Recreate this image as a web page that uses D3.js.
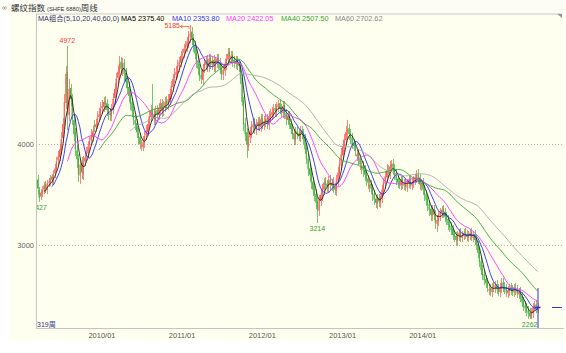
<!DOCTYPE html>
<html><head><meta charset="utf-8">
<script src="https://cdn.jsdelivr.net/npm/d3@7/dist/d3.min.js"></script>
<style>html,body{margin:0;padding:0;background:#fff;overflow:hidden}svg{display:block}</style>
</head><body><svg id="c" width="566" height="353"></svg>
<script>
// ---- data (weekly OHLC) ----
const closes=[
3560,3470,3520,3545,3590,3560,3610,3630,3660,3650,
3700,3760,3830,3880,3950,4050,4200,4420,4700,4300,
4550,4450,4250,4100,3950,3850,3700,3800,3720,3820,
3870,3920,3980,4030,4080,4130,4180,4200,4260,4300,
4350,4380,4420,4400,4340,4300,4290,4350,4450,4550,
4650,4720,4800,4750,4800,4700,4620,4560,4480,4400,
4330,4250,4200,4120,4060,4000,3990,4020,4080,4130,
4200,4280,4330,4290,4250,4330,4300,4360,4400,4330,
4380,4420,4400,4450,4500,4580,4650,4700,4720,4780,
4820,4880,4900,4950,4980,5020,5080,5100,5050,4980,
4900,4820,4750,4680,4650,4750,4800,4830,4780,4850,
4800,4830,4780,4820,4850,4800,4750,4700,4740,4800,
4850,4900,4870,4880,4830,4810,4830,4790,4780,4650,
4420,4200,4100,4000,4080,4120,4180,4200,4150,4200,
4220,4180,4250,4200,4230,4250,4200,4280,4300,4320,
4350,4330,4380,4400,4350,4320,4380,4300,4250,4280,
4200,4150,4100,4050,4120,4100,4080,4130,4100,4050,
3950,3850,3750,3700,3620,3550,3500,3420,3350,3450,
3500,3560,3620,3600,3580,3640,3600,3620,3570,3550,
3650,3720,3800,3900,3980,4050,4120,4150,4100,4060,
4000,3980,3940,3900,3850,3800,3780,3740,3700,3650,
3620,3600,3560,3500,3450,3420,3460,3430,3480,3550,
3620,3680,3740,3720,3780,3800,3750,3700,3650,3620,
3600,3650,3600,3620,3580,3620,3650,3600,3620,3650,
3670,3700,3660,3600,3620,3550,3500,3450,3400,3350,
3300,3350,3300,3220,3250,3300,3330,3350,3320,3280,
3250,3200,3180,3150,3100,3080,3050,3100,3120,3080,
3100,3120,3100,3080,3100,3120,3080,3100,3050,3000,
2920,2830,2750,2700,2650,2620,2580,2560,2540,2580,
2580,2600,2560,2540,2580,2620,2580,2560,2530,2550,
2570,2550,2540,2570,2550,2520,2530,2480,2430,2390,
2370,2340,2320,2290,2330,2380,2400,2370,2380];
const opens=[
3650,3550,3480,3510,3550,3600,3550,3620,3620,3680,
3640,3710,3750,3840,3870,3940,4060,4190,4410,4720,
4290,4560,4460,4240,4120,3940,3860,3690,3810,3710,
3830,3880,3910,3990,4040,4070,4190,4170,4190,4270,
4290,4360,4370,4430,4410,4350,4310,4280,4340,4460,
4540,4660,4710,4820,4740,4810,4710,4630,4570,4490,
4420,4340,4240,4210,4110,4070,3980,3970,4010,4090,
4120,4190,4270,4340,4300,4240,4340,4290,4350,4410,
4320,4370,4430,4390,4440,4500,4570,4660,4690,4710,
4770,4810,4890,4910,4960,4970,5010,5070,5120,5060,
4990,4910,4830,4760,4690,4640,4760,4790,4840,4770,
4860,4790,4840,4770,4810,4860,4810,4760,4690,4730,
4790,4840,4920,4860,4890,4840,4800,4840,4800,4790,
4660,4430,4210,4120,3980,4070,4110,4170,4220,4140,
4190,4230,4170,4260,4190,4220,4260,4190,4270,4290,
4310,4360,4320,4370,4410,4360,4310,4390,4310,4240,
4290,4210,4160,4110,4040,4130,4110,4070,4140,4110,
4060,3960,3860,3760,3710,3630,3560,3510,3430,3340,
3440,3490,3550,3630,3610,3570,3650,3590,3630,3580,
3540,3640,3710,3790,3890,3970,4040,4110,4160,4110,
4070,4010,3990,3880,3910,3860,3760,3790,3750,3710,
3660,3580,3610,3570,3510,3460,3410,3470,3420,3470,
3540,3610,3670,3750,3710,3770,3810,3760,3710,3660,
3630,3590,3660,3590,3630,3570,3610,3660,3590,3610,
3640,3660,3710,3670,3590,3630,3560,3510,3460,3410,
3360,3290,3360,3310,3210,3240,3290,3320,3360,3330,
3290,3260,3210,3190,3160,3110,3090,3040,3090,3130,
3070,3090,3130,3110,3070,3090,3130,3070,3110,3060,
3010,2930,2840,2760,2710,2660,2630,2550,2570,2530,
2590,2570,2610,2570,2530,2570,2630,2590,2570,2520,
2540,2580,2560,2530,2580,2560,2510,2540,2490,2440,
2400,2380,2350,2330,2280,2320,2390,2410,2360];
const highs=[
3700,3580,3560,3590,3630,3640,3650,3670,3700,3710,
3740,3800,3870,3930,4000,4120,4260,4500,4780,4972,
4650,4600,4500,4300,4160,3990,3900,3850,3870,3880,
3920,3970,4030,4080,4150,4180,4240,4250,4330,4360,
4420,4440,4470,4480,4450,4400,4360,4400,4510,4610,
4710,4780,4880,4870,4860,4850,4760,4680,4620,4540,
4460,4380,4290,4250,4160,4110,4040,4080,4130,4190,
4250,4330,4390,4600,4350,4380,4390,4410,4450,4450,
4430,4470,4480,4500,4550,4630,4700,4760,4780,4840,
4870,4930,4950,5000,5030,5070,5130,5185,5160,5100,
5030,4950,4880,4800,4740,4800,4850,4880,4890,4900,
4900,4880,4890,4870,4900,4900,4860,4810,4790,4850,
4900,4960,4960,4930,4930,4880,4880,4880,4840,4830,
4700,4470,4260,4160,4130,4170,4230,4250,4260,4250,
4270,4270,4300,4300,4280,4300,4300,4330,4350,4370,
4400,4400,4420,4440,4450,4400,4430,4430,4350,4330,
4330,4250,4200,4150,4170,4170,4150,4180,4180,4150,
4100,4000,3900,3810,3760,3680,3610,3560,3480,3500,
3550,3610,3670,3680,3650,3690,3700,3660,3680,3620,
3700,3770,3860,3960,4040,4100,4180,4240,4200,4150,
4110,4050,4030,3950,3950,3900,3830,3830,3790,3750,
3700,3650,3650,3610,3550,3500,3510,3510,3530,3600,
3670,3730,3800,3790,3830,3840,3850,3800,3750,3700,
3670,3690,3700,3660,3670,3660,3690,3700,3660,3690,
3710,3740,3750,3710,3660,3670,3600,3550,3500,3450,
3400,3400,3400,3350,3300,3340,3370,3390,3400,3370,
3330,3300,3250,3230,3200,3150,3130,3140,3160,3170,
3140,3160,3170,3150,3140,3160,3170,3140,3150,3100,
3040,2970,2880,2800,2750,2700,2670,2600,2610,2620,
2630,2640,2650,2610,2620,2670,2670,2630,2610,2590,
2610,2620,2600,2610,2620,2600,2570,2580,2530,2480,
2440,2420,2390,2370,2370,2420,2440,2450,2420];
const lows=[
3510,3427,3450,3480,3510,3520,3510,3580,3590,3600,
3600,3670,3720,3790,3830,3900,4010,4150,4350,4140,
4230,4380,4190,4030,3880,3760,3630,3610,3660,3650,
3780,3830,3870,3940,3990,4020,4120,4120,4150,4220,
4240,4300,4320,4340,4280,4240,4230,4230,4300,4400,
4490,4600,4650,4690,4680,4630,4560,4500,4420,4340,
4270,4190,4140,4060,4000,3950,3930,3930,3960,4040,
4080,4150,4220,4230,4190,4190,4250,4240,4300,4270,
4280,4320,4350,4340,4390,4450,4520,4610,4640,4660,
4720,4770,4840,4860,4910,4920,4960,5010,4990,4920,
4850,4760,4690,4630,4600,4590,4710,4740,4720,4720,
4750,4740,4720,4720,4760,4750,4700,4640,4640,4680,
4740,4790,4820,4810,4770,4760,4750,4740,4720,4600,
4380,4130,4030,3860,3930,4010,4060,4110,4100,4090,
4140,4130,4120,4150,4140,4170,4150,4140,4220,4240,
4260,4280,4270,4320,4300,4270,4260,4250,4190,4190,
4150,4100,4050,3990,3990,4050,4030,4020,4050,4000,
3900,3800,3690,3640,3560,3490,3440,3360,3214,3290,
3390,3440,3500,3550,3530,3520,3550,3540,3520,3500,
3490,3590,3660,3740,3840,3920,3990,4050,4040,4000,
3950,3930,3880,3830,3790,3740,3710,3680,3640,3590,
3560,3530,3510,3440,3400,3370,3360,3380,3370,3420,
3490,3560,3620,3670,3660,3720,3700,3650,3600,3570,
3560,3550,3560,3550,3540,3530,3570,3560,3550,3570,
3600,3620,3610,3550,3540,3500,3440,3390,3340,3290,
3240,3240,3250,3160,3130,3190,3240,3270,3270,3230,
3200,3150,3130,3100,3050,3030,3000,2990,3040,3030,
3030,3050,3060,3040,3030,3050,3040,3030,3000,2950,
2870,2780,2700,2650,2600,2570,2530,2500,2490,2480,
2530,2520,2510,2490,2480,2520,2530,2510,2480,2470,
2490,2500,2490,2480,2500,2470,2460,2430,2380,2340,
2320,2290,2270,2262,2270,2280,2340,2320,2320];

const maPeriods=[5,10,20,40,60];
const legendTitle="MA组合(5,10,20,40,60,0)";
const legendValues=["2375.40","2353.80","2422.05","2507.50","2702.62"];
const yTickValues=[3000,4000];
const xTickIndex=[41,92,143,194,245];
const xTickLabels=["2010/01","2011/01","2012/01","2013/01","2014/01"];
const highMarkIndex=[19,97];
const lowMarkIndex=[1,178,313];
const titleMain="螺纹指数";
const titleCode="(SHFE 6880)";
const titleTail="周线";
const periodLabel="319周";

// ---- drawing ----
const svg=d3.select("#c");
const FONT="'Liberation Sans','DejaVu Sans','Noto Sans CJK SC',sans-serif";
const BG="#fffff0";
const L=36, R=564, T=14, B=328;

svg.append("rect").attr("width",566).attr("height",353).attr("fill","#fff");
svg.append("rect").attr("x",9).attr("y",0).attr("width",R-9).attr("height",340).attr("fill",BG);
svg.append("rect").attr("x",0).attr("y",0).attr("width",566).attr("height",13).attr("fill","#fdfdf6");

const x=d3.scaleLinear().domain([0,closes.length-1]).range([37.5,537.5]);
const y=d3.scaleLinear().domain([3000,4000]).range([245,144.3]);

// top border
svg.append("line").attr("x1",L).attr("x2",R-2).attr("y1",T).attr("y2",T).attr("stroke","#c8c8c8");
svg.append("path").attr("d",`M${R-7},${T} L${R-2},${T} L${R-2},${T+4} Z`).attr("fill","#999");

// gridlines
svg.append("g").selectAll("line").data(yTickValues).join("line")
  .attr("x1",L).attr("x2",R-2).attr("y1",d=>Math.round(y(d))+0.5).attr("y2",d=>Math.round(y(d))+0.5)
  .attr("stroke","#b4b4b4").attr("stroke-dasharray","1,2");
svg.append("g").selectAll("text").data(yTickValues).join("text")
  .attr("x",34).attr("y",d=>y(d)+2.6).attr("text-anchor","end")
  .attr("font-family",FONT).attr("font-size",7.5).attr("fill","#666").text(d=>d);

svg.append("line").attr("x1",L+0.5).attr("x2",L+0.5).attr("y1",T).attr("y2",B).attr("stroke","#c4c4c4");
svg.append("line").attr("x1",L).attr("x2",R).attr("y1",B+0.5).attr("y2",B+0.5).attr("stroke","#c4c4c4");

svg.append("g").selectAll("text").data(xTickIndex).join("text")
  .attr("x",d=>x(d)).attr("y",338).attr("text-anchor","middle")
  .attr("font-family",FONT).attr("font-size",7.5).attr("fill","#555")
  .text((d,i)=>xTickLabels[i]);

svg.append("clipPath").attr("id","pc").append("rect").attr("x",L+1).attr("y",T+1).attr("width",R-L-1).attr("height",B-T-1);
const g=svg.append("g").attr("clip-path","url(#pc)");

const idx=d3.range(closes.length);
const UP="#ff5a5a", DN="#44b444";
const col=i=>closes[i]>=opens[i]?UP:DN;
g.append("g").attr("shape-rendering","crispEdges").selectAll("rect").data(idx).join("rect")
  .attr("x",i=>Math.round(x(i))).attr("width",1)
  .attr("y",i=>y(highs[i]))
  .attr("height",i=>Math.max(1,y(lows[i])-y(highs[i])))
  .attr("fill",col).attr("opacity",0.75);
g.append("g").selectAll("rect").data(idx).join("rect")
  .attr("x",i=>x(i)-0.55).attr("width",1.1)
  .attr("y",i=>y(Math.max(opens[i],closes[i])))
  .attr("height",i=>Math.max(1,Math.abs(y(opens[i])-y(closes[i]))))
  .attr("fill",col);

const maColors=["#222222","#2b2bff","#ff33ff","#33a833","#a8a8a8"];
maPeriods.forEach((p,k)=>{
  const pts=[];
  for(let i=p-1;i<closes.length;i++){pts.push([i,d3.mean(closes.slice(i-p+1,i+1))]);}
  g.append("path").datum(pts).attr("fill","none").attr("stroke",maColors[k]).attr("stroke-width",0.9)
   .attr("d",d3.line().x(d=>x(d[0])).y(d=>y(d[1])));
});

highMarkIndex.forEach(i=>{
  const px=x(i), py=y(highs[i]);
  if(py-3<32){
    g.append("text").attr("x",px-10).attr("y",py+3).attr("text-anchor","end")
     .attr("font-family",FONT).attr("font-size",7).attr("fill","#ff3333").text(highs[i]);
    g.append("path").attr("d",`M${px-7.5},${py} L${px-9.5},${py+1.5} L${px-7.5},${py+3} M${px-9.5},${py+1.5} L${px-1},${py+1.5} L${px-1},${py+4}`)
     .attr("stroke","#ff3333").attr("stroke-width",0.7).attr("fill","none");
  } else {
    g.append("text").attr("x",px).attr("y",py-3).attr("text-anchor","middle")
     .attr("font-family",FONT).attr("font-size",7).attr("fill","#ff3333").text(highs[i]);
  }
});
lowMarkIndex.forEach(i=>{
  g.append("text").attr("x",x(i)).attr("y",y(lows[i])+8).attr("text-anchor","middle")
   .attr("font-family",FONT).attr("font-size",7).attr("fill","#33a033").text(lows[i]);
});

const last=closes.length-1;
svg.append("line").attr("x1",x(last)+0.5).attr("x2",x(last)+0.5).attr("y1",288).attr("y2",B)
  .attr("stroke","#3333cc").attr("stroke-width",1);
svg.append("line").attr("x1",x(last)-3).attr("x2",x(last)+3).attr("y1",y(closes[last])).attr("y2",y(closes[last]))
  .attr("stroke","#3333cc").attr("stroke-width",1.6);
svg.append("line").attr("x1",552).attr("x2",R-2).attr("y1",Math.round(y(closes[last]))+0.5).attr("y2",Math.round(y(closes[last]))+0.5)
  .attr("stroke","#3333cc").attr("stroke-width",1);

const lg=svg.append("text").attr("x",38).attr("y",21).attr("font-family",FONT).attr("font-size",7.3);
lg.append("tspan").attr("fill","#333366").text(legendTitle);
const legX=[121,172,226,281,335];
const legCol=["#000","#3333ff","#ff33ff","#33a833","#888"];
maPeriods.forEach((p,k)=>{
  svg.append("text").attr("x",legX[k]).attr("y",21).attr("font-family",FONT).attr("font-size",7.3)
    .attr("fill",legCol[k]).text(`MA${p} ${legendValues[k]}`);
});

svg.append("text").attr("x",2).attr("y",10).attr("font-family",FONT).attr("font-size",7).attr("fill","#777").text("∞");
const tt=svg.append("text").attr("x",11).attr("y",10.5).attr("font-family",FONT).attr("fill","#333");
tt.append("tspan").attr("font-size",8.5).text(titleMain);
tt.append("tspan").attr("font-size",5.8).attr("dx",2).text(titleCode);
tt.append("tspan").attr("font-size",8.5).text(titleTail);

svg.append("text").attr("x",37).attr("y",327).attr("font-family",FONT).attr("font-size",7)
  .attr("fill","#333388").text(periodLabel);
</script></body></html>
